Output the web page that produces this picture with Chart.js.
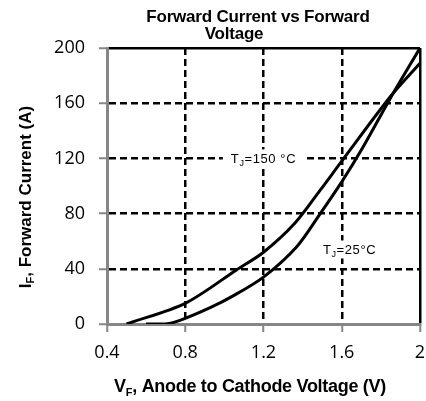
<!DOCTYPE html>
<html>
<head>
<meta charset="utf-8">
<script src="https://cdn.jsdelivr.net/npm/chart.js@4/dist/chart.umd.min.js"></script>
<style>
  html, body { margin: 0; padding: 0; background: #fff; }
  #wrap { width: 426px; height: 401px; }
</style>
</head>
<body>
<div id="wrap"><canvas id="myChart" width="426" height="401"></canvas></div>
<script>
// forward characteristic
var vf150 = [0.5, 0.8, 1.06, 1.2, 1.36, 1.49, 1.6, 1.85, 2.0];
var if150 = [0, 15, 39, 52, 73, 97, 118, 165, 189];

var vf25 = [0.6, 0.7, 0.78, 0.93, 1.04, 1.2, 1.37, 1.49, 1.6, 1.7, 1.85, 2.0];
var if25 = [0, 0, 3, 12, 20, 34, 56, 80, 103, 126, 164, 200];

var xTicks = [0.4, 0.8, 1.2, 1.6, 2];
var yTicks = [0, 40, 80, 120, 160, 200];

// curve labels, anchored in data units (V, A)
var curveLabels = ['=150 \u00B0C', '=25\u00B0C'];
var labelV = [1.2, 1.64];
var labelI = [120, 54];

var titleLines = ['Forward Current vs Forward', 'Voltage'];

function pts(xs, ys){
  var out = [];
  for (var i = 0; i < xs.length; i++) out.push({x: xs[i], y: ys[i]});
  return out;
}

// draws text where some bits are subscripts
function richText(ctx, parts, x, y, size, bold, align, spacing, subSize){
  var f = (bold ? 'bold ' : '') + size + 'px "Liberation Sans", Arial, sans-serif';
  var fs = (bold ? 'bold ' : '') + (subSize || Math.round(size * 0.62)) + 'px "Liberation Sans", Arial, sans-serif';
  ctx.letterSpacing = (spacing || 0) + 'px';
  var w = 0;
  parts.forEach(function(p){ ctx.font = p[1] ? fs : f; w += ctx.measureText(p[0]).width; });
  var cx = align === 'center' ? x - w / 2 : x;
  ctx.textBaseline = 'alphabetic';
  ctx.textAlign = 'left';
  parts.forEach(function(p){
    ctx.font = p[1] ? fs : f;
    ctx.fillText(p[0], cx, p[1] ? y + size * 0.2 : y);
    cx += ctx.measureText(p[0]).width;
  });
  ctx.letterSpacing = '0px';
  return w;
}

var textPlugin = {
  id: 'texts',
  afterDraw: function(chart){
    var ctx = chart.ctx;
    var xs = chart.scales.x, ys = chart.scales.y;
    ctx.save();
    ctx.fillStyle = '#000';

    // title (two lines, as in the original)
    ctx.font = 'bold 17px "Liberation Sans", Arial, sans-serif';
    ctx.letterSpacing = '-0.2px';
    ctx.textAlign = 'center';
    ctx.textBaseline = 'alphabetic';
    ctx.fillText(titleLines[0], 258, 22);
    ctx.fillText(titleLines[1], 234, 39);
    ctx.letterSpacing = '0px';

    // x axis title
    richText(ctx, [['V', false], ['F', true], [', Anode to Cathode Voltage (V)', false]], 250, 392, 18, true, 'center', -0.3);

    // y axis title (rotated)
    ctx.save();
    ctx.translate(31, 197);
    ctx.rotate(-Math.PI / 2);
    richText(ctx, [['I', false], ['F', true], [', Forward Current (A)', false]], 0, 0, 17, true, 'center', 0);
    ctx.restore();

    // curve labels with white boxes over the grid
    for (var i = 0; i < curveLabels.length; i++){
      var px = xs.getPixelForValue(labelV[i]);
      var py = ys.getPixelForValue(labelI[i]);
      var parts = [['T', false], ['J', true], [curveLabels[i], false]];
      var sp = 0.6;
      ctx.letterSpacing = sp + 'px';
      var w = 0;
      parts.forEach(function(p){
        ctx.font = (p[1] ? '9px' : '13px') + ' "Liberation Sans", Arial, sans-serif';
        w += ctx.measureText(p[0]).width;
      });
      ctx.letterSpacing = '0px';
      ctx.fillStyle = '#fff';
      ctx.fillRect(px - w / 2 - 8, py - 9, w + 16, 18);
      ctx.fillStyle = '#000';
      richText(ctx, parts, px, py + 5, 13, false, 'center', sp, 9);
    }
    ctx.restore();
  }
};

var gridDash = function(c){
  if (c.tick && (c.tick.value === 200 || c.tick.value === 2)) return [];
  return [7, 4];
};
var gridColor = function(c){
  if (c.index === 0) return 'rgba(0,0,0,0)';
  return '#000';
};

var ctx = document.getElementById('myChart').getContext('2d');
window.myChart = new Chart(ctx, {
  type: 'line',
  data: {
    datasets: [
      {
        label: 'TJ=150C',
        data: pts(vf150, if150),
        borderColor: '#000',
        borderWidth: 3,
        pointRadius: 0,
        fill: false,
        tension: 0.3
      },
      {
        label: 'TJ=25C',
        data: pts(vf25, if25),
        borderColor: '#000',
        borderWidth: 3,
        pointRadius: 0,
        fill: false,
        tension: 0.3
      }
    ]
  },
  options: {
    responsive: false,
    animation: false,
    events: [],
    layout: { padding: { left: 0, right: 0, top: 48, bottom: 0 } },
    plugins: {
      legend: { display: false },
      tooltip: { enabled: false },
      title: { display: false }
    },
    scales: {
      x: {
        type: 'linear',
        min: 0.4,
        max: 2,
        afterFit: function(s){ s.height = 77; s.paddingRight = 6; },
        afterBuildTicks: function(s){ s.ticks = xTicks.map(function(v){ return {value: v}; }); },
        ticks: {
          font: { family: '"Open Sans", sans-serif', size: 18 },
          color: '#000',
          padding: 10,
          maxRotation: 0,
          callback: function(v){ return String(+v.toFixed(1)); }
        },
        grid: {
          color: gridColor,
          lineWidth: 2.5,
          tickLength: 8,
          tickColor: '#868686',
          tickWidth: 2
        },
        border: { color: '#868686', width: 3, dash: gridDash }
      },
      y: {
        min: 0,
        max: 200,
        afterFit: function(s){ s.width = 107; },
        afterBuildTicks: function(s){ s.ticks = yTicks.map(function(v){ return {value: v}; }); },
        ticks: {
          font: { family: '"Open Sans", sans-serif', size: 18 },
          color: '#000',
          padding: 14
        },
        grid: {
          color: gridColor,
          lineWidth: 2.5,
          tickLength: 8,
          tickColor: '#868686',
          tickWidth: 2
        },
        border: { color: '#868686', width: 3, dash: gridDash }
      }
    }
  },
  plugins: [textPlugin]
});
</script>
</body>
</html>
